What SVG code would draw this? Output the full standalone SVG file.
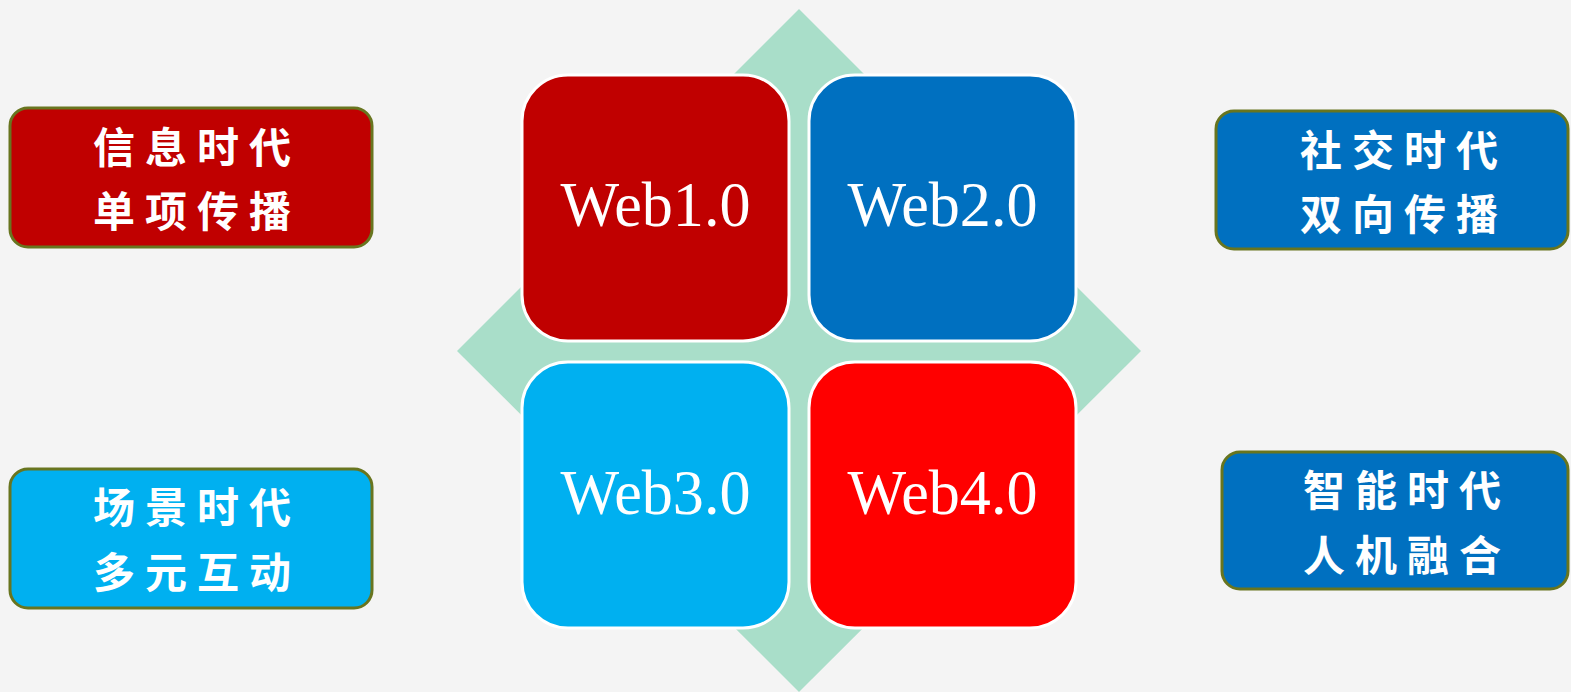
<svg xmlns="http://www.w3.org/2000/svg" width="1571" height="692" viewBox="0 0 1571 692">
  <style>
    .web { stroke: #FFFFFF; stroke-width: 3; }
    .webtxt { font-family: "Liberation Serif", "Times New Roman", serif; font-size: 64px; fill: #FFFFFF; text-anchor: middle; }
    .side { stroke: #68751F; stroke-width: 3; }
    .sidetxt { font-family: "Noto Sans CJK SC", "Noto Sans", sans-serif; font-weight: bold; font-size: 42px; fill: #FFFFFF; text-anchor: middle; letter-spacing: 10px; }
  </style>
  <rect x="0" y="0" width="1571" height="692" fill="#F4F4F4"/>

  <g id="connectors">
    <polygon points="799,9 1141,351 799,692 457,351" fill="#A9DEC9"/>
  </g>

  <g id="web1">
    <rect class="web" x="522" y="75" width="267" height="266" rx="46" ry="46" fill="#C00000"/>
    <text class="webtxt" x="655.5" y="226" textLength="190" lengthAdjust="spacingAndGlyphs">Web1.0</text>
  </g>
  <g id="web2">
    <rect class="web" x="809" y="75" width="267" height="266" rx="46" ry="46" fill="#0070C0"/>
    <text class="webtxt" x="942.5" y="226" textLength="190" lengthAdjust="spacingAndGlyphs">Web2.0</text>
  </g>
  <g id="web3">
    <rect class="web" x="522" y="362" width="267" height="266" rx="46" ry="46" fill="#00B0F0"/>
    <text class="webtxt" x="655.5" y="514" textLength="190" lengthAdjust="spacingAndGlyphs">Web3.0</text>
  </g>
  <g id="web4">
    <rect class="web" x="809" y="362" width="267" height="266" rx="46" ry="46" fill="#FF0000"/>
    <text class="webtxt" x="942.5" y="514" textLength="190" lengthAdjust="spacingAndGlyphs">Web4.0</text>
  </g>

  <g id="info-era">
    <rect class="side" x="10" y="108" width="362" height="139" rx="18" ry="18" fill="#C00000"/>
    <text class="sidetxt" x="197" y="163">信息时代</text>
    <text class="sidetxt" x="197" y="227">单项传播</text>
  </g>
  <g id="social-era">
    <rect class="side" x="1216" y="111" width="352" height="138" rx="18" ry="18" fill="#0070C0"/>
    <text class="sidetxt" x="1404" y="166">社交时代</text>
    <text class="sidetxt" x="1404" y="230">双向传播</text>
  </g>
  <g id="scene-era">
    <rect class="side" x="10" y="469" width="362" height="139" rx="18" ry="18" fill="#00B0F0"/>
    <text class="sidetxt" x="197" y="523">场景时代</text>
    <text class="sidetxt" x="197" y="588">多元互动</text>
  </g>
  <g id="smart-era">
    <rect class="side" x="1222" y="452" width="346" height="137" rx="18" ry="18" fill="#0070C0"/>
    <text class="sidetxt" x="1407" y="506">智能时代</text>
    <text class="sidetxt" x="1407" y="571">人机融合</text>
  </g>
</svg>
